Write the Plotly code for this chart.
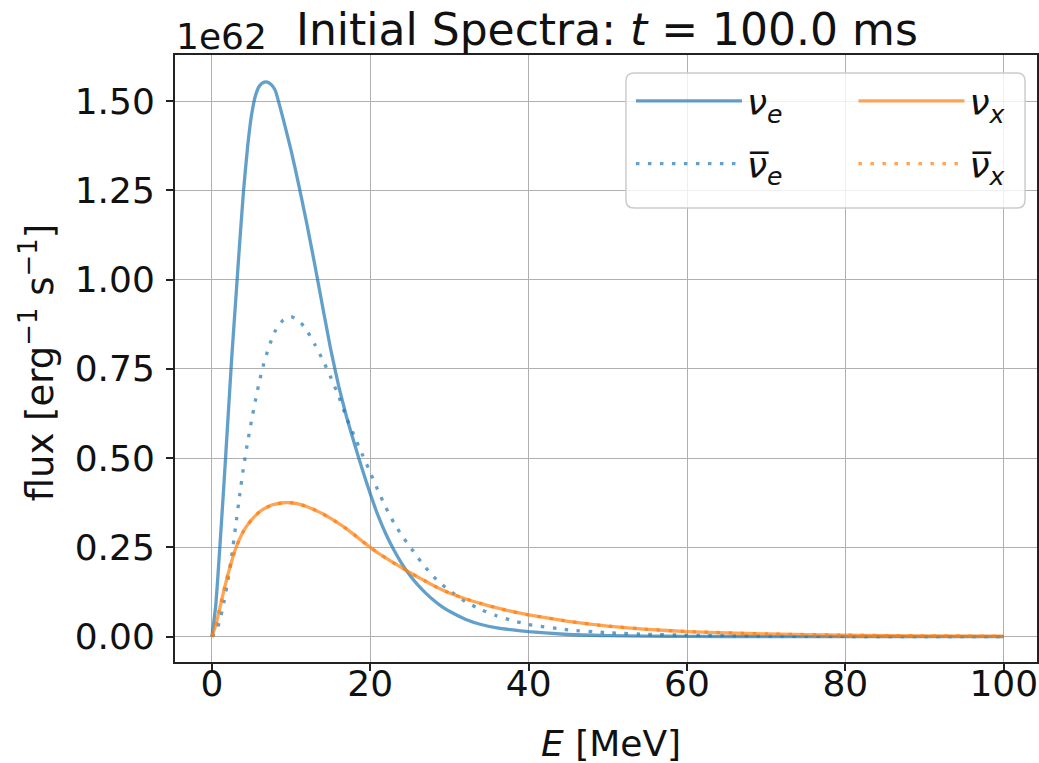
import plotly.graph_objects as go

# Energy grid [MeV]
E = [0, 0.5, 1, 1.5, 2, 2.5, 3, 3.5, 4, 4.5, 5, 5.5, 6, 6.5, 7, 7.5, 8,
     9, 10, 11, 12, 13, 14, 15, 16, 17, 18, 19, 20,
     21, 22, 23, 24, 25, 26, 27, 28, 29, 30,
     32, 34, 36, 38, 40, 45, 50, 55, 60, 70, 80, 90, 100]

# flux in units of 1e62 erg^-1 s^-1
nu_e = [0, 0.09, 0.25, 0.42, 0.60, 0.78, 0.94, 1.10, 1.25, 1.37, 1.46, 1.515, 1.542, 1.552, 1.553, 1.546, 1.53,
        1.45, 1.362, 1.262, 1.155, 1.041, 0.922, 0.805, 0.703, 0.616, 0.54, 0.468, 0.40,
        0.338, 0.286, 0.242, 0.204, 0.172, 0.145, 0.122, 0.102, 0.085, 0.071,
        0.049, 0.034, 0.0245, 0.0188, 0.0142, 0.006, 0.003, 0.0015, 0.0007, 0.0002, 0.00005, 0.00001, 0.0]

nu_e_bar = [0, 0.013, 0.045, 0.095, 0.155, 0.225, 0.31, 0.395, 0.475, 0.543, 0.605, 0.662, 0.715, 0.76, 0.798, 0.83, 0.856,
            0.887, 0.896, 0.885, 0.857, 0.818, 0.775, 0.727, 0.674, 0.613, 0.561, 0.51, 0.46,
            0.408, 0.36, 0.318, 0.283, 0.252, 0.222, 0.193, 0.168, 0.147, 0.129,
            0.0985, 0.0754, 0.058, 0.0446, 0.034, 0.019, 0.011, 0.0066, 0.004, 0.0014, 0.0005, 0.0002, 0.00007]

nu_x = [0, 0.033, 0.08, 0.128, 0.172, 0.212, 0.247, 0.274, 0.296, 0.313, 0.327, 0.339, 0.349, 0.357, 0.363, 0.368, 0.371,
        0.375, 0.375, 0.371, 0.364, 0.355, 0.344, 0.331, 0.317, 0.302, 0.285, 0.267, 0.25,
        0.234, 0.22, 0.206, 0.193, 0.18, 0.167, 0.155, 0.143, 0.132, 0.122,
        0.106, 0.0925, 0.0805, 0.070, 0.061, 0.043, 0.0295, 0.0205, 0.0143, 0.0076, 0.0041, 0.0022, 0.0012]

nu_x_bar = [0, 0.033, 0.08, 0.128, 0.172, 0.212, 0.247, 0.274, 0.296, 0.313, 0.327, 0.339, 0.349, 0.357, 0.363, 0.368, 0.371,
            0.375, 0.375, 0.371, 0.364, 0.355, 0.344, 0.331, 0.317, 0.302, 0.285, 0.267, 0.25,
            0.234, 0.22, 0.206, 0.193, 0.18, 0.167, 0.155, 0.143, 0.132, 0.122,
            0.106, 0.0925, 0.0805, 0.070, 0.061, 0.043, 0.0295, 0.0205, 0.0143, 0.0076, 0.0041, 0.0022, 0.0012]

x_ticks = [0, 20, 40, 60, 80, 100]
y_ticks = [0, 0.25, 0.5, 0.75, 1.0, 1.25, 1.5]

BLUE = "rgba(31,119,180,0.7)"
ORANGE = "rgba(255,127,14,0.7)"
FONT = "DejaVu Sans"
FS = 36
DOT = "3.5px,8.5px"

W, H = 1039, 763
L, R, T, B = 175, 0, 55, 101
pw, ph = W - L - R, H - T - B

fig = go.Figure()
series = [
    ("<i>ν</i><sub><i>e</i></sub>", nu_e, BLUE, "solid", "legend", 1),
    ("<i>ν̅</i><sub><i>e</i></sub>", nu_e_bar, BLUE, DOT, "legend", 2),
    ("<i>ν</i><sub><i>x</i></sub>", nu_x, ORANGE, "solid", "legend2", 1),
    ("<i>ν̅</i><sub><i>x</i></sub>", nu_x_bar, ORANGE, DOT, "legend2", 2),
]
for i, (name, ys, col, dash, leg, rank) in enumerate(series):
    fig.add_trace(go.Scatter(
        x=E, y=ys, mode="lines", name=name,
        line=dict(color=col, width=3.3, dash=dash, shape="spline", smoothing=0.4),
        legend=leg, legendrank=rank, legendgroup=f"g{i}",
    ))

def px2paper_x(px):
    return (px - L) / pw

def px2paper_y(py):
    return (H - B - py) / ph

axis_common = dict(
    showgrid=True, gridcolor="#b0b0b0", gridwidth=1.3,
    showline=True, linecolor="#222222", linewidth=2, mirror=True,
    ticks="outside", ticklen=7, tickwidth=1.5, tickcolor="#222222",
    zeroline=False,
    tickfont=dict(family=FONT, size=FS, color="#111111"),
)

fig.update_layout(
    width=W, height=H,
    margin=dict(l=L, r=R, t=T, b=B),
    plot_bgcolor="white", paper_bgcolor="white",
    font=dict(family=FONT, size=FS, color="#111111"),
    xaxis=dict(range=[-4.66, 104.2], tickvals=x_ticks, ticklabelstandoff=-18, **axis_common),
    yaxis=dict(range=[-0.071, 1.629], tickvals=y_ticks, tickformat=".2f",
               ticklabelstandoff=4, **axis_common),
    legend=dict(x=px2paper_x(632), y=px2paper_y(71), xanchor="left", yanchor="top",
                bgcolor="rgba(0,0,0,0)", borderwidth=0, tracegroupgap=13,
                itemwidth=106, font=dict(family=FONT, size=FS)),
    legend2=dict(x=px2paper_x(855), y=px2paper_y(71), xanchor="left", yanchor="top",
                 bgcolor="rgba(0,0,0,0)", borderwidth=0, tracegroupgap=13,
                 itemwidth=106, font=dict(family=FONT, size=FS)),
    showlegend=True,
)

# legend frame (rounded box)
x0, x1 = px2paper_x(627), px2paper_x(1027)
y0, y1 = px2paper_y(208), px2paper_y(73)
rx, ry = 8 / pw, 8 / ph
path = (f"M{x0+rx},{y0} L{x1-rx},{y0} Q{x1},{y0} {x1},{y0+ry} "
        f"L{x1},{y1-ry} Q{x1},{y1} {x1-rx},{y1} L{x0+rx},{y1} "
        f"Q{x0},{y1} {x0},{y1-ry} L{x0},{y0+ry} Q{x0},{y0} {x0+rx},{y0} Z")
fig.add_shape(type="path", path=path, xref="paper", yref="paper",
              line=dict(color="#cccccc", width=1.5),
              fillcolor="rgba(255,255,255,0.8)", layer="above")

annotations = [
    dict(text="Initial Spectra: <i>t</i> = 100.0 ms", x=px2paper_x(608), y=px2paper_y(29),
         xanchor="center", yanchor="middle", font=dict(size=44)),
    dict(text="1e62", x=px2paper_x(174), y=px2paper_y(36),
         xanchor="left", yanchor="middle", font=dict(size=FS)),
    dict(text="<i>E</i> [MeV]", x=px2paper_x(612), y=px2paper_y(743),
         xanchor="center", yanchor="middle", font=dict(size=FS)),
    dict(text="flux [erg<sup>−1</sup> s<sup>−1</sup>]", x=px2paper_x(37), y=px2paper_y(362),
         xanchor="center", yanchor="middle", textangle=-90, font=dict(size=37)),
]
for a in annotations:
    fig.add_annotation(xref="paper", yref="paper", showarrow=False, **a)

fig.write_html("out.html", config={"displayModeBar": False},
               post_script="document.body.style.margin='0';document.body.style.overflow='hidden';")
